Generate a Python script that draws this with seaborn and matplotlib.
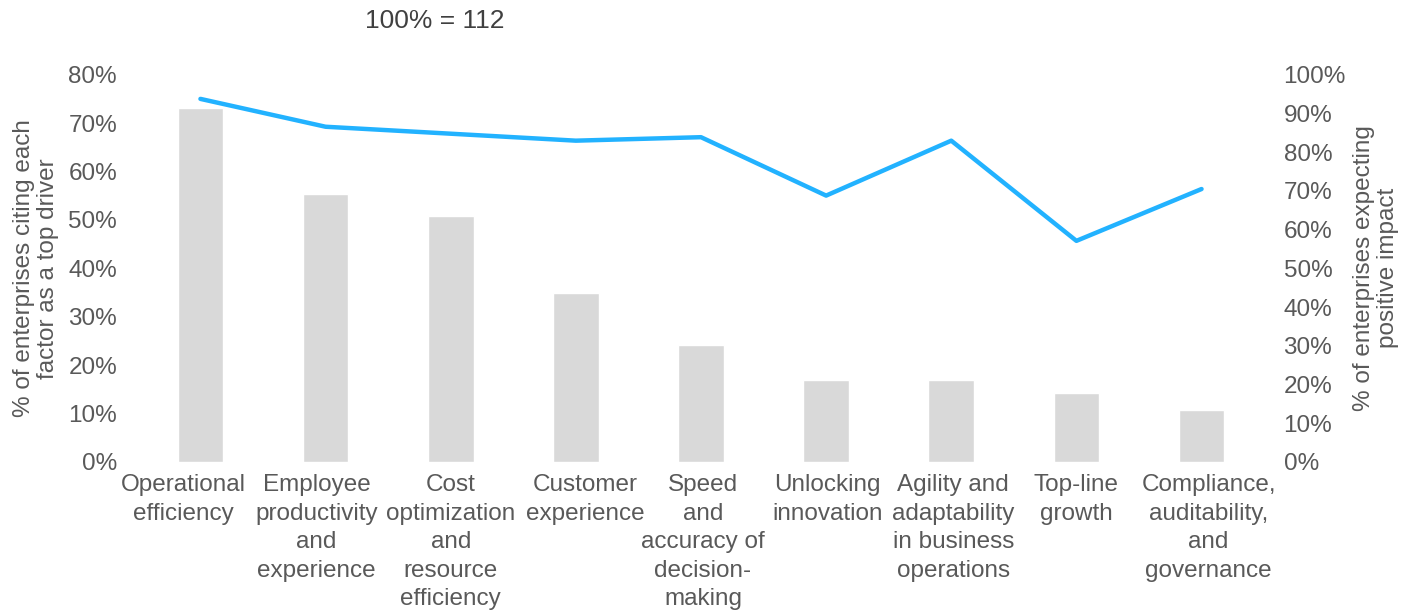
import matplotlib
matplotlib.use("Agg")
import matplotlib.pyplot as plt
import matplotlib.transforms as mtransforms
import seaborn as sns
import pandas as pd
from matplotlib.ticker import PercentFormatter

# Drivers of adoption, 100% = 112 enterprises
categories = [
    "Operational\nefficiency",
    "Employee\nproductivity\nand\nexperience",
    "Cost\noptimization\nand\nresource\nefficiency",
    "Customer\nexperience",
    "Speed\nand\naccuracy of\ndecision-\nmaking",
    "Unlocking\ninnovation",
    "Agility and\nadaptability\nin business\noperations",
    "Top-line\ngrowth",
    "Compliance,\nauditability,\nand\ngovernance",
]
top_driver_pct = [73.2, 55.4, 50.9, 34.8, 24.1, 17.0, 17.0, 14.3, 10.7]
positive_impact_pct = [93.8, 86.6, 84.8, 83.0, 83.9, 68.8, 83.0, 57.1, 70.5]

df = pd.DataFrame({
    "factor": categories,
    "top_driver": top_driver_pct,
    "positive": positive_impact_pct,
})

sns.set_theme(style="white")
plt.rcParams["font.family"] = ["Liberation Sans", "DejaVu Sans"]

grey_text = "#595959"
fs = 17.5

fig = plt.figure(figsize=(14.14, 6.14), dpi=100)
ax = fig.add_axes([0.0975, 0.248, 0.7965, 0.630])

sns.barplot(data=df, x="factor", y="top_driver", color="#D9D9D9",
            width=0.365, saturation=1, ax=ax)
ax.set_ylim(0, 80)
ax.set_xlim(-0.5, len(categories) - 0.5)
ax.set_yticks(range(0, 81, 10))
ax.yaxis.set_major_formatter(PercentFormatter(decimals=0))

ax2 = ax.twinx()
sns.lineplot(x=list(range(len(categories))), y=df["positive"], ax=ax2,
             color="#22B2FF", linewidth=3.2, solid_capstyle="round")
ax2.set_ylim(0, 100)
ax2.set_yticks(range(0, 101, 10))
ax2.yaxis.set_major_formatter(PercentFormatter(decimals=0))

for a in (ax, ax2):
    for s in a.spines.values():
        s.set_visible(False)
    a.tick_params(axis="both", length=0, labelsize=fs, labelcolor=grey_text)
    a.grid(False)

ax.tick_params(axis="y", pad=15)
ax2.tick_params(axis="y", pad=14)
ax.tick_params(axis="x", pad=9)

# nudge the wrapped category labels so neighbouring blocks don't collide
label_shift_px = [-17, -9, 0, 9, 2, 1, 2, 0, 7]
for lbl, dx in zip(ax.get_xticklabels(), label_shift_px):
    lbl.set_linespacing(1.38)
    lbl.set_transform(lbl.get_transform() +
                      mtransforms.ScaledTranslation(dx / fig.dpi, 0,
                                                    fig.dpi_scale_trans))

ax.set_xlabel("")
ax.set_ylabel("% of enterprises citing each\nfactor as a top driver",
              fontsize=fs, color=grey_text, labelpad=7, linespacing=1.1)
ax2.set_ylabel("% of enterprises expecting\npositive impact",
               fontsize=fs, color=grey_text, labelpad=5, linespacing=1.1,
               rotation=90)

fig.text(0.258, 0.965, "100% = 112", fontsize=19, color="#404040",
         va="center", ha="left")

fig.savefig("out.png", dpi=100)
